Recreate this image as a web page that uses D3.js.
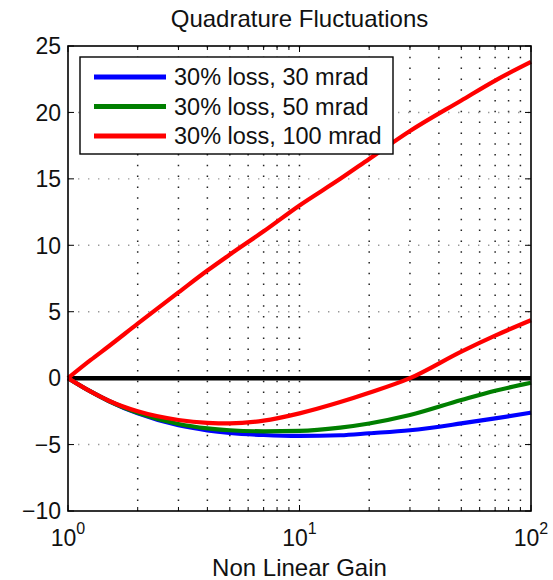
<!DOCTYPE html>
<html>
<head>
<meta charset="utf-8">
<script src="https://cdn.jsdelivr.net/npm/d3@7"></script>
<style>
  html, body { margin: 0; padding: 0; background: #fff; }
  svg { display: block; }
  text { font-family: "Liberation Sans", Arial, sans-serif; fill: #111; }
</style>
</head>
<body>
<svg id="chart" width="553" height="580"></svg>
<script>
// Non-linear gain samples (log axis)
const gain = [1, 1.25, 1.5, 2, 3, 4, 5, 7, 10, 15, 20, 30, 50, 70, 100];

// Quadrature fluctuations (dB) for each loss / phase-noise case
const antiSqueezed100 = [0, 1.35, 2.4, 4.1, 6.45, 8.1, 9.3, 11.05, 13.0, 15.0, 16.5, 18.6, 20.9, 22.4, 23.8];
const squeezed100 = [0, -1.0, -1.7, -2.5, -3.15, -3.36, -3.4, -3.2, -2.65, -1.8, -1.1, 0, 2.0, 3.2, 4.36];
const squeezed50 = [0, -1.0, -1.72, -2.6, -3.45, -3.78, -3.92, -4.0, -3.97, -3.72, -3.41, -2.78, -1.65, -0.95, -0.35];
const squeezed30 = [0, -1.0, -1.72, -2.65, -3.55, -3.93, -4.12, -4.28, -4.35, -4.3, -4.15, -3.92, -3.41, -3.03, -2.6];

const legendLabels = ["30% loss, 30 mrad", "30% loss, 50 mrad", "30% loss, 100 mrad"];
const seriesColors = ["#0000ff", "#007f00", "#ff0000"];

const yTicks = [-10, -5, 0, 5, 10, 15, 20, 25];
const xMajorTicks = [1, 10, 100];
const xExponents = ["0", "1", "2"];
const xMinorTicks = [2, 3, 4, 5, 6, 7, 8, 9, 20, 30, 40, 50, 60, 70, 80, 90];

const W = 553, H = 580;
const margin = { left: 68, right: 22, top: 46, bottom: 69 };
const iw = W - margin.left - margin.right;
const ih = H - margin.top - margin.bottom;

const svg = d3.select("#chart");
const g = svg.append("g").attr("transform", `translate(${margin.left},${margin.top})`);

const x = d3.scaleLog().domain([1, 100]).range([0, iw]);
const y = d3.scaleLinear().domain([-10, 25]).range([ih, 0]);

// grid lines
const gridX = xMinorTicks.concat([10]);
g.append("g").selectAll("line").data(gridX).join("line")
  .attr("x1", d => x(d)).attr("x2", d => x(d))
  .attr("y1", 0).attr("y2", ih)
  .attr("stroke", "#222").attr("stroke-width", 1.5)
  .attr("stroke-dasharray", "1.5,9.3");
g.append("g").selectAll("line").data(yTicks.slice(1, -1)).join("line")
  .attr("x1", 0).attr("x2", iw)
  .attr("y1", d => y(d)).attr("y2", d => y(d))
  .attr("stroke", "#999").attr("stroke-width", 1.4)
  .attr("stroke-dasharray", "1.4,8.6");

// tick marks on all four sides, pointing inward
const tickLen = 6, minorLen = 4;
const ticks = g.append("g").attr("stroke", "#000").attr("stroke-width", 1);
xMajorTicks.forEach(d => {
  ticks.append("line").attr("x1", x(d)).attr("x2", x(d)).attr("y1", ih).attr("y2", ih - tickLen);
  ticks.append("line").attr("x1", x(d)).attr("x2", x(d)).attr("y1", 0).attr("y2", tickLen);
});
xMinorTicks.forEach(d => {
  ticks.append("line").attr("x1", x(d)).attr("x2", x(d)).attr("y1", ih).attr("y2", ih - minorLen);
  ticks.append("line").attr("x1", x(d)).attr("x2", x(d)).attr("y1", 0).attr("y2", minorLen);
});
yTicks.forEach(d => {
  ticks.append("line").attr("x1", 0).attr("x2", tickLen).attr("y1", y(d)).attr("y2", y(d));
  ticks.append("line").attr("x1", iw).attr("x2", iw - tickLen).attr("y1", y(d)).attr("y2", y(d));
});

// zero reference line
g.append("line")
  .attr("x1", 0).attr("x2", iw).attr("y1", y(0)).attr("y2", y(0))
  .attr("stroke", "#000").attr("stroke-width", 4.5);

// curves
const line = d3.line()
  .x((d, i) => x(gain[i]))
  .y(d => y(d))
  .curve(d3.curveMonotoneX);

const curves = [
  { values: squeezed30, color: seriesColors[0] },
  { values: squeezed50, color: seriesColors[1] },
  { values: squeezed100, color: seriesColors[2] },
  { values: antiSqueezed100, color: seriesColors[2] }
];
g.append("g").selectAll("path").data(curves).join("path")
  .attr("d", d => line(d.values))
  .attr("fill", "none")
  .attr("stroke", d => d.color)
  .attr("stroke-width", 4.2)
  .attr("stroke-linejoin", "round");

// axes box
g.append("rect").attr("x", 0).attr("y", 0).attr("width", iw).attr("height", ih)
  .attr("fill", "none").attr("stroke", "#000").attr("stroke-width", 1.6);

// y tick labels
g.append("g").selectAll("text").data(yTicks).join("text")
  .attr("x", -7).attr("y", d => y(d))
  .attr("dy", "0.36em")
  .attr("text-anchor", "end")
  .attr("font-size", 23)
  .text(d => d < 0 ? "\u2212" + Math.abs(d) : d);

// x tick labels as powers of ten
const xl = g.append("g");
xMajorTicks.forEach((d, i) => {
  const t = xl.append("text")
    .attr("x", x(d)).attr("y", ih + 35)
    .attr("text-anchor", "middle")
    .attr("font-size", 23);
  t.append("tspan").text("10");
  t.append("tspan").attr("dy", -12).attr("font-size", 16).text(xExponents[i]);
});

// axis label and title
svg.append("text")
  .attr("x", margin.left + iw / 2).attr("y", 576)
  .attr("text-anchor", "middle").attr("font-size", 24)
  .text("Non Linear Gain");
svg.append("text")
  .attr("x", margin.left + iw / 2).attr("y", 27)
  .attr("text-anchor", "middle").attr("font-size", 24)
  .text("Quadrature Fluctuations");

// legend
const lg = svg.append("g").attr("transform", "translate(80,57)");
lg.append("rect").attr("width", 313).attr("height", 97)
  .attr("fill", "#fff").attr("stroke", "#000").attr("stroke-width", 1.4);
legendLabels.forEach((lab, i) => {
  const ry = 20 + i * 29.5;
  lg.append("line").attr("x1", 14).attr("x2", 86).attr("y1", ry).attr("y2", ry)
    .attr("stroke", seriesColors[i]).attr("stroke-width", 5);
  lg.append("text").attr("x", 94).attr("y", ry).attr("dy", "0.36em")
    .attr("font-size", 23.5).text(lab);
});
</script>
</body>
</html>
